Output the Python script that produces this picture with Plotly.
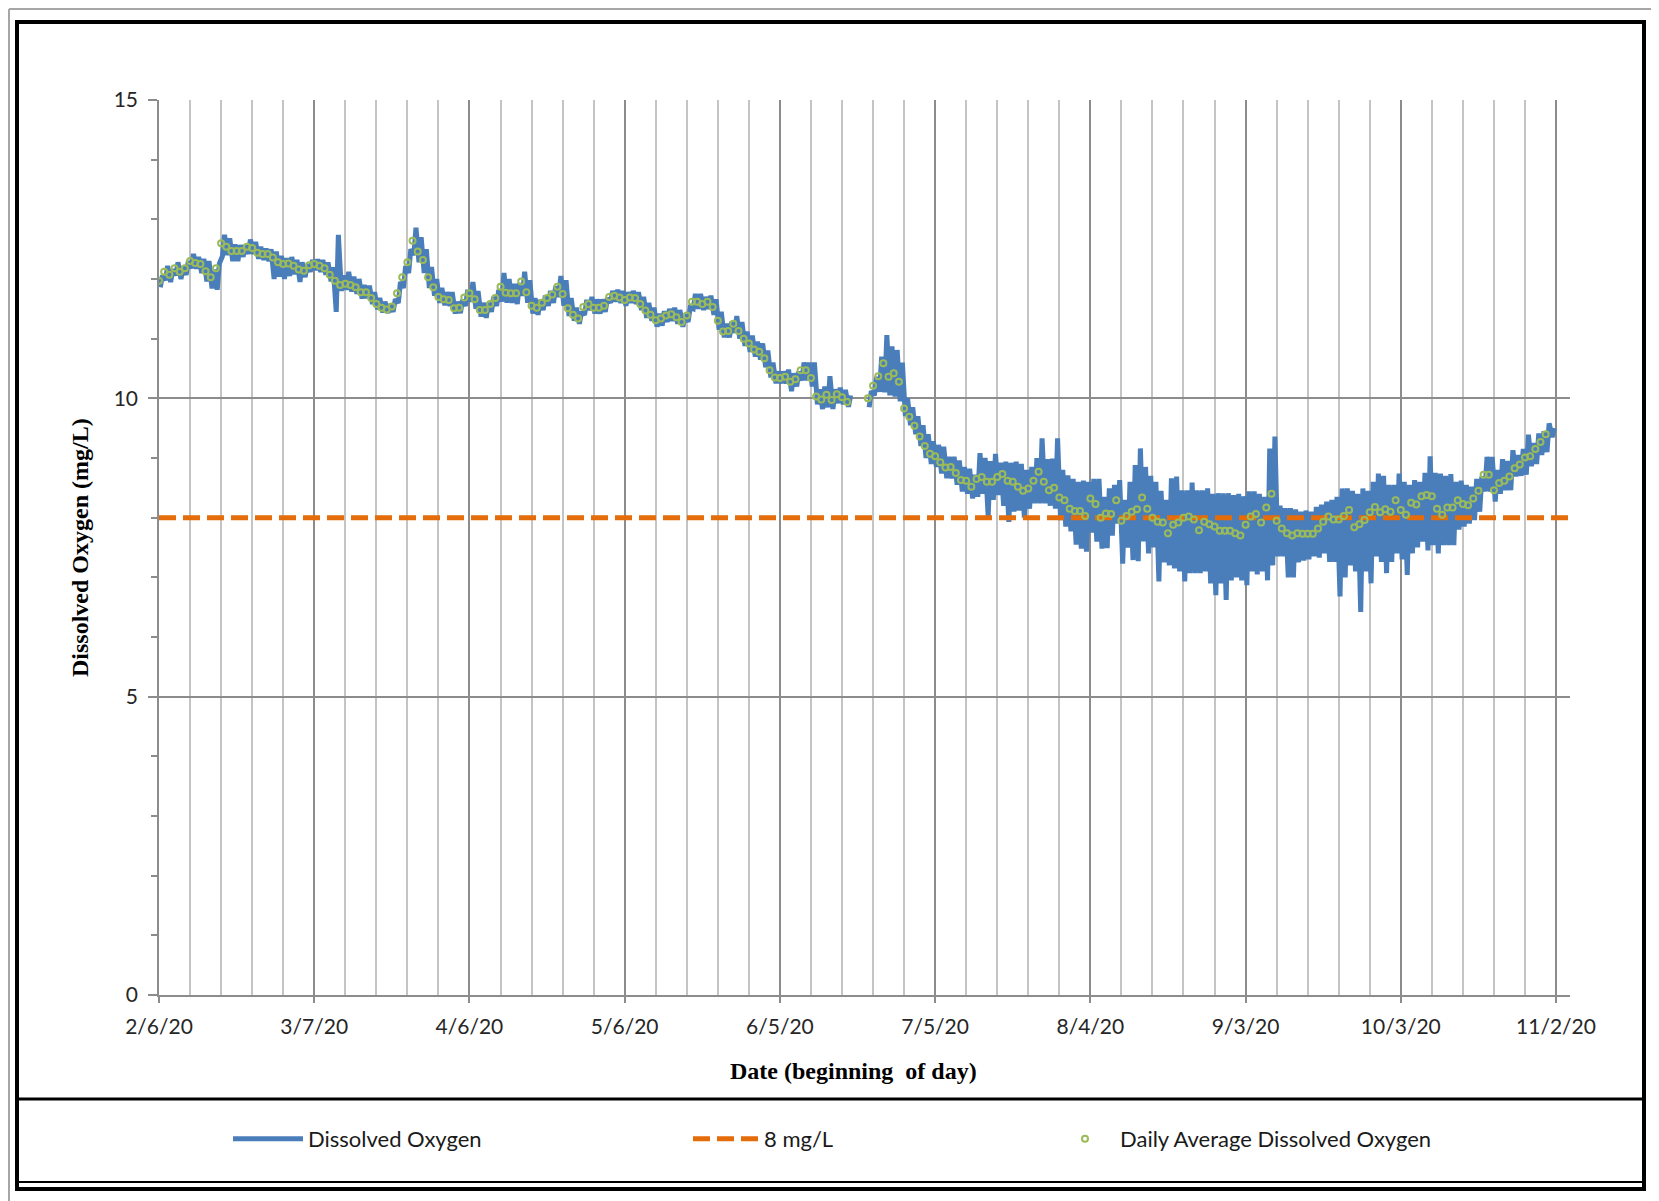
import pandas as pd
import plotly.graph_objects as go

# ---------------- data ----------------
start_date = "2020-02-06"

# daily average DO (mg/L), one per day starting 2/6/20 (None = no data)
daily_avg = [
    11.97, 12.12, 12.07, 12.18, 12.12, 12.18, 12.30, 12.27, 12.25, 12.13,
    12.03, 12.18, 12.60, 12.54, 12.47, 12.47, 12.47, 12.54, 12.52, 12.44,
    12.42, 12.42, 12.36, 12.28, 12.25, 12.26, 12.22, 12.16, 12.14, 12.23,
    12.25, 12.22, 12.18, 12.07, 11.97, 11.90, 11.92, 11.90, 11.86, 11.78,
    11.78, 11.68, 11.58, 11.52, 11.49, 11.54, 11.76, 12.03, 12.28, 12.64,
    12.46, 12.32, 12.03, 11.86, 11.70, 11.66, 11.65, 11.51, 11.52, 11.69,
    11.76, 11.66, 11.48, 11.48, 11.58, 11.68, 11.87, 11.77, 11.76, 11.76,
    11.96, 11.78, 11.55, 11.52, 11.60, 11.68, 11.74, 11.87, 11.75, 11.51,
    11.40, 11.34, 11.53, 11.58, 11.52, 11.52, 11.55, 11.70, 11.72, 11.69,
    11.65, 11.69, 11.68, 11.58, 11.47, 11.40, 11.31, 11.34, 11.39, 11.41,
    11.36, 11.28, 11.39, 11.62, 11.62, 11.58, 11.62, 11.53, 11.30, 11.12,
    11.13, 11.25, 11.13, 11.00, 10.92, 10.82, 10.78, 10.67, 10.47, 10.35,
    10.34, 10.36, 10.28, 10.32, 10.47, 10.47, 10.34, 10.03, 9.98, 10.06,
    9.97, 10.07, 10.02, 9.94, None, None, None, 10.00, 10.21, 10.37,
    10.59, 10.36, 10.42, 10.28, 9.83, 9.69, 9.54, 9.36, 9.20, 9.07,
    9.03, 8.93, 8.84, 8.85, 8.75, 8.63, 8.62, 8.52, 8.65, 8.68,
    8.60, 8.60, 8.68, 8.73, 8.62, 8.60, 8.52, 8.45, 8.49, 8.62,
    8.77, 8.60, 8.46, 8.50, 8.34, 8.29, 8.15, 8.11, 8.11, 8.03,
    8.32, 8.23, 8.00, 8.07, 8.06, 8.29, 7.95, 8.03, 8.10, 8.14,
    8.34, 8.15, 8.00, 7.93, 7.92, 7.74, 7.88, 7.92, 8.00, 8.02,
    7.97, 7.79, 7.93, 7.89, 7.85, 7.78, 7.78, 7.78, 7.74, 7.70,
    7.88, 8.02, 8.06, 7.92, 8.17, 8.40, 7.95, 7.82, 7.74, 7.70,
    7.74, 7.73, 7.73, 7.73, 7.82, 7.93, 8.02, 7.97, 7.97, 8.03,
    8.13, 7.84, 7.89, 7.96, 8.09, 8.18, 8.09, 8.14, 8.10, 8.29,
    8.13, 8.05, 8.25, 8.22, 8.36, 8.38, 8.36, 8.15, 8.05, 8.17,
    8.17, 8.29, 8.23, 8.21, 8.32, 8.45, 8.72, 8.72, 8.46, 8.58,
    8.62, 8.69, 8.83, 8.89, 9.01, 9.03, 9.15, 9.27, 9.40, None,
]

# daily minimum of the continuous record (mg/L)
daily_min = [
    11.86, 11.98, 11.95, 12.06, 12.00, 12.07, 12.18, 12.17, 12.10, 11.96,
    11.84, 11.82, 12.38, 12.40, 12.30, 12.30, 12.37, 12.42, 12.42, 12.34,
    12.32, 12.30, 12.00, 12.04, 12.00, 12.05, 12.08, 11.95, 12.03, 12.12,
    12.15, 12.12, 12.07, 11.96, 11.45, 11.80, 11.82, 11.79, 11.75, 11.67,
    11.68, 11.58, 11.49, 11.44, 11.43, 11.45, 11.60, 11.85, 12.10, 12.40,
    12.28, 12.10, 11.85, 11.72, 11.60, 11.56, 11.55, 11.42, 11.43, 11.55,
    11.62, 11.50, 11.37, 11.35, 11.45, 11.55, 11.62, 11.60, 11.60, 11.58,
    11.72, 11.60, 11.42, 11.40, 11.48, 11.55, 11.60, 11.70, 11.55, 11.38,
    11.30, 11.25, 11.40, 11.48, 11.42, 11.42, 11.45, 11.60, 11.62, 11.60,
    11.55, 11.60, 11.58, 11.48, 11.35, 11.30, 11.20, 11.22, 11.28, 11.30,
    11.25, 11.20, 11.28, 11.50, 11.50, 11.48, 11.50, 11.40, 11.15, 11.02,
    11.02, 11.10, 11.00, 10.88, 10.78, 10.70, 10.65, 10.52, 10.35, 10.25,
    10.25, 10.25, 10.12, 10.20, 10.30, 10.30, 10.20, 9.90, 9.82, 9.85,
    9.82, 9.92, 9.90, 9.86, None, None, None, 9.85, 10.05, 10.11,
    10.10, 10.05, 10.03, 9.95, 9.70, 9.55, 9.40, 9.20, 9.00, 8.90,
    8.85, 8.74, 8.66, 8.66, 8.55, 8.44, 8.40, 8.32, 8.35, 8.40,
    8.02, 8.30, 8.38, 8.20, 7.93, 8.10, 8.12, 8.00, 8.15, 8.24,
    8.24, 8.24, 8.20, 8.15, 7.96, 7.85, 7.77, 7.55, 7.48, 7.43,
    7.75, 7.60, 7.48, 7.49, 7.70, 7.90, 7.23, 7.50, 7.29, 7.27,
    7.60, 7.40, 7.50, 6.93, 7.25, 7.20, 7.15, 7.10, 6.93, 7.07,
    7.07, 7.07, 7.10, 6.90, 6.70, 6.90, 6.62, 6.95, 7.00, 6.95,
    6.87, 7.10, 7.05, 7.10, 6.95, 7.20, 7.35, 7.35, 7.00, 7.00,
    7.25, 7.28, 7.30, 7.35, 7.33, 7.40, 7.26, 7.26, 6.68, 7.00,
    7.20, 7.10, 6.42, 7.10, 6.90, 7.35, 7.26, 7.07, 7.26, 7.40,
    7.30, 7.04, 7.40, 7.50, 7.60, 7.45, 7.54, 7.40, 7.54, 7.54,
    7.54, 7.80, 7.85, 7.90, 7.96, 8.10, 8.44, 8.44, 8.27, 8.40,
    8.46, 8.46, 8.69, 8.70, 8.72, 8.86, 8.90, 9.05, 9.10, 9.35,
]

# daily maximum of the continuous record (mg/L)
daily_max = [
    12.06, 12.22, 12.16, 12.28, 12.21, 12.30, 12.42, 12.37, 12.34, 12.30,
    12.16, 12.26, 12.74, 12.68, 12.58, 12.57, 12.57, 12.66, 12.62, 12.54,
    12.51, 12.50, 12.46, 12.39, 12.35, 12.37, 12.32, 12.28, 12.25, 12.32,
    12.33, 12.32, 12.28, 12.20, 12.74, 12.06, 12.12, 12.04, 12.00, 11.90,
    11.89, 11.78, 11.68, 11.62, 11.58, 11.66, 11.95, 12.22, 12.50, 12.86,
    12.70, 12.50, 12.20, 12.00, 11.85, 11.78, 11.78, 11.62, 11.65, 11.82,
    11.95, 11.80, 11.60, 11.60, 11.70, 11.82, 12.10, 12.00, 11.92, 11.93,
    12.12, 11.98, 11.68, 11.65, 11.72, 11.80, 11.88, 12.05, 11.98, 11.68,
    11.52, 11.45, 11.65, 11.70, 11.66, 11.66, 11.68, 11.80, 11.82, 11.80,
    11.78, 11.80, 11.78, 11.70, 11.60, 11.52, 11.42, 11.46, 11.50, 11.52,
    11.48, 11.40, 11.52, 11.75, 11.75, 11.70, 11.72, 11.66, 11.45, 11.25,
    11.28, 11.38, 11.28, 11.12, 11.05, 10.95, 10.92, 10.80, 10.60, 10.45,
    10.45, 10.48, 10.42, 10.45, 10.60, 10.60, 10.60, 10.15, 10.20, 10.37,
    10.15, 10.18, 10.14, 10.05, None, None, None, 10.12, 10.36, 10.70,
    11.06, 10.87, 10.81, 10.60, 10.00, 9.85, 9.70, 9.55, 9.40, 9.28,
    9.22, 9.19, 9.02, 9.02, 8.96, 8.85, 8.82, 8.72, 9.08, 9.00,
    8.95, 9.07, 8.92, 8.94, 8.92, 8.94, 8.90, 8.80, 8.85, 9.00,
    9.33, 8.98, 8.99, 9.33, 8.80, 8.71, 8.65, 8.60, 8.62, 8.60,
    8.65, 8.65, 8.35, 8.49, 8.55, 8.63, 8.30, 8.60, 8.88, 9.16,
    8.85, 8.70, 8.60, 8.45, 8.30, 8.66, 8.69, 8.46, 8.46, 8.59,
    8.46, 8.46, 8.49, 8.40, 8.41, 8.41, 8.41, 8.38, 8.40, 8.36,
    8.44, 8.44, 8.40, 8.35, 9.16, 9.36, 8.20, 8.16, 8.16, 8.14,
    8.10, 8.12, 8.10, 8.18, 8.22, 8.27, 8.30, 8.35, 8.49, 8.49,
    8.45, 8.40, 8.49, 8.45, 8.60, 8.74, 8.70, 8.55, 8.55, 8.74,
    8.60, 8.55, 8.63, 8.60, 8.75, 9.03, 8.75, 8.74, 8.70, 8.73,
    8.60, 8.62, 8.55, 8.52, 8.65, 8.69, 9.02, 9.02, 8.80, 8.98,
    8.95, 9.13, 9.05, 9.15, 9.39, 9.25, 9.41, 9.45, 9.58, 9.50,
]

threshold_value = 8.0
x_tick_dates = ["2020-02-06", "2020-03-07", "2020-04-06", "2020-05-06", "2020-06-05",
                "2020-07-05", "2020-08-04", "2020-09-03", "2020-10-03", "2020-11-02"]
x_tick_labels = ["2/6/20", "3/7/20", "4/6/20", "5/6/20", "6/5/20",
                 "7/5/20", "8/4/20", "9/3/20", "10/3/20", "11/2/20"]
y_tick_vals = [0, 5, 10, 15]
y_tick_labels = ["0", "5", "10", "15"]

# ---------------- build series ----------------
days = pd.date_range(start_date, periods=len(daily_avg), freq="D")
x_end = pd.Timestamp("2020-11-04 16:48")

# continuous record: daily low (morning) and high (afternoon)
cont_x, cont_y = [], []
for d, lo, hi in zip(days, daily_min, daily_max):
    if lo is None:
        cont_x.append(d + pd.Timedelta(hours=12))
        cont_y.append(None)
        continue
    cont_x += [d + pd.Timedelta(hours=6), d + pd.Timedelta(hours=16)]
    cont_y += [lo, hi]

avg_x = [d for d, v in zip(days, daily_avg) if v is not None]
avg_y = [v for v in daily_avg if v is not None]

# ---------------- geometry (page pixels -> paper) ----------------
OFF = 8                       # default page body margin
PAGE_W, PAGE_H = 1659, 1201
W, H = PAGE_W - OFF, PAGE_H - OFF
PL, PR, PT, PB = 159, 1570, 100, 995      # plot area in page pixels
pw, ph = PR - PL, PB - PT


def px(x):
    return (x - PL) / pw


def py(y):
    return (PB - y) / ph


fig = go.Figure()
fig.add_trace(go.Scatter(
    x=cont_x, y=cont_y, mode="lines", name="Dissolved Oxygen",
    line=dict(color="#4A7EBB", width=5), connectgaps=False,
    legend="legend", hoverinfo="skip"))
fig.add_trace(go.Scatter(
    x=[days[0], x_end], y=[threshold_value, threshold_value], mode="lines",
    name="8 mg/L", line=dict(color="#E46C0A", width=5, dash="17px,7px"),
    legend="legend2"))
fig.add_trace(go.Scatter(
    x=avg_x, y=avg_y, mode="markers", name="Daily Average Dissolved Oxygen",
    marker=dict(symbol="circle-open", size=6, color="#9BBB59",
                line=dict(color="#9BBB59", width=2)),
    legend="legend3"))

grid_major = "#8C8C8C"
grid_minor = "#C4C4C4"
tick_font = dict(family="Lato", size=21, color="#262626")

fig.update_xaxes(
    type="date", range=[days[0], x_end],
    tickmode="array", tickvals=x_tick_dates, ticktext=x_tick_labels,
    ticks="outside", ticklen=6, tickwidth=1.5, tickcolor=grid_major,
    ticklabelstandoff=6,
    showgrid=True, gridcolor=grid_major, gridwidth=1.5,
    minor=dict(tickmode="linear", tick0=start_date, dtick=6 * 86400000,
               showgrid=True, gridcolor=grid_minor, gridwidth=1.5, ticks=""),
    showline=True, linecolor=grid_major, linewidth=1.5,
    zeroline=False, tickfont=tick_font,
)
fig.update_yaxes(
    range=[0, 15], tickmode="array", tickvals=y_tick_vals, ticktext=y_tick_labels,
    ticks="outside", ticklen=9, tickwidth=1.5, tickcolor=grid_major,
    ticklabelstandoff=6,
    minor=dict(tickmode="linear", tick0=0, dtick=1, ticks="outside", ticklen=6,
               tickwidth=1.5, tickcolor=grid_major, showgrid=False),
    showgrid=True, gridcolor=grid_major, gridwidth=1.5,
    showline=True, linecolor=grid_major, linewidth=1.5,
    zeroline=False, tickfont=tick_font,
)

leg_common = dict(orientation="h", yanchor="middle", y=py(1139), xanchor="left",
                  bgcolor="rgba(0,0,0,0)", borderwidth=0,
                  font=dict(family="Lato", size=22, color="#1a1a1a"))

shapes = [
    # outer light-gray border
    dict(type="line", xref="paper", yref="paper", x0=px(OFF + 1), x1=px(PAGE_W), y0=py(OFF + 1), y1=py(OFF + 1),
         line=dict(color="#A6A6A6", width=2)),
    dict(type="line", xref="paper", yref="paper", x0=px(OFF + 1), x1=px(OFF + 1), y0=py(OFF + 1), y1=py(PAGE_H),
         line=dict(color="#A6A6A6", width=2)),
    # black chart frame
    dict(type="rect", xref="paper", yref="paper", x0=px(17), x1=px(1644), y0=py(22), y1=py(1189),
         line=dict(color="black", width=4)),
    # legend box lines
    dict(type="line", xref="paper", yref="paper", x0=px(17), x1=px(1644), y0=py(1099), y1=py(1099),
         line=dict(color="black", width=3)),
    dict(type="line", xref="paper", yref="paper", x0=px(17), x1=px(1644), y0=py(1182), y1=py(1182),
         line=dict(color="black", width=2)),
]

annotations = [
    dict(text="<b>Date (beginning  of day)</b>", xref="paper", yref="paper",
         x=px(853), y=py(1071), xanchor="center", yanchor="middle", showarrow=False,
         font=dict(family="Liberation Serif", size=24, color="black")),
    dict(text="<b>Dissolved Oxygen (mg/L)</b>", xref="paper", yref="paper",
         x=px(80), y=py(548), xanchor="center", yanchor="middle", showarrow=False,
         textangle=-90, font=dict(family="Liberation Serif", size=24, color="black")),
]

fig.update_layout(
    width=W, height=H,
    margin=dict(l=PL - OFF, r=W - (PR - OFF), t=PT - OFF, b=H - (PB - OFF), autoexpand=False),
    paper_bgcolor="white", plot_bgcolor="white",
    showlegend=True,
    legend=dict(leg_common, x=px(228), itemwidth=70),
    legend2=dict(leg_common, x=px(688), itemwidth=66),
    legend3=dict(leg_common, x=px(1050), itemwidth=60),
    shapes=shapes, annotations=annotations,
)

fig.write_html("out.html")
